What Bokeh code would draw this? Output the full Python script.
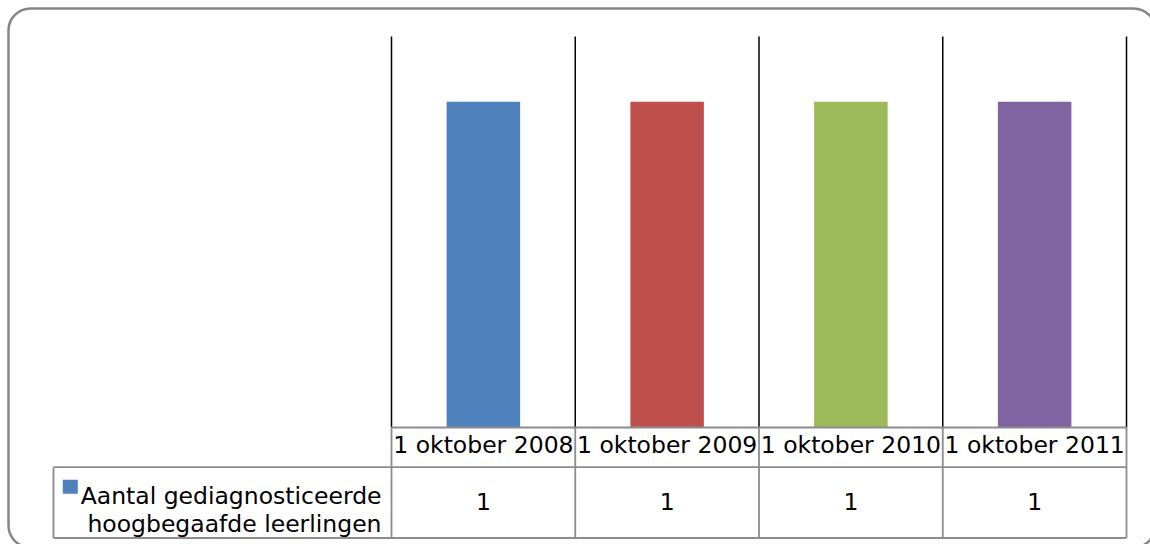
from bokeh.plotting import figure
from bokeh.models import Range1d, BoxAnnotation, ColumnDataSource
from bokeh.core.properties import value
from bokeh.embed import file_html
from bokeh.resources import INLINE

# ---- data ----
categories = ["1 oktober 2008", "1 oktober 2009", "1 oktober 2010", "1 oktober 2011"]
values = [1, 1, 1, 1]
series_lines = ["Aantal gediagnosticeerde", "hoogbegaafde leerlingen"]
colors = ["#4F81BD", "#C0504D", "#9BBB59", "#8064A2"]
y_max = 1.2

# ---- layout (page pixels) ----
W, H = 1150, 544
CELL_L = 391.0      # left edge of first category cell
CELL_W = 183.75     # width of one category cell
Y0 = 427.0          # page y of value 0
PXU = (Y0 - 36.0) / y_max  # pixels per value unit


def dx(px):
    return (px - CELL_L) / CELL_W


def dy(py):
    return (Y0 - py) / PXU


FONT = value("DejaVu Sans")
FS = "23.5px"
GRAY = "#8c8c8c"

p = figure(width=W, height=H,
           x_range=Range1d(dx(0), dx(W)),
           y_range=Range1d(dy(H), dy(0)),
           x_axis_type=None, y_axis_type=None,
           toolbar_location=None, output_backend="svg",
           min_border_left=0, min_border_right=0,
           min_border_top=0, min_border_bottom=0)
p.outline_line_color = None
p.background_fill_color = "white"
p.border_fill_color = "white"

n = len(categories)
centers = [i + 0.5 for i in range(n)]
bounds = list(range(n + 1))

# bars
src = ColumnDataSource(dict(x=centers, top=values, color=colors, cat=categories,
                            val=[str(v) for v in values]))
p.vbar(x="x", top="top", bottom=0, width=0.4, fill_color="color",
       line_color=None, source=src)

# vertical category separators in the plot area
p.segment(x0=bounds, y0=[0] * len(bounds), x1=bounds, y1=[y_max] * len(bounds),
          line_color="black", line_width=1.5)

# data table
cat_bottom = dy(466.7)
tbl_bottom = dy(537.5)
leg_left = dx(53)
hx0 = [0, leg_left, leg_left]
hx1 = [n, n, n]
hy = [0, cat_bottom, tbl_bottom]
p.segment(x0=hx0, y0=hy, x1=hx1, y1=hy, line_color=GRAY, line_width=1.8)
vx = bounds + [leg_left]
vy0 = [0] * len(bounds) + [cat_bottom]
vy1 = [tbl_bottom] * (len(bounds) + 1)
p.segment(x0=vx, y0=vy0, x1=vx, y1=vy1, line_color=GRAY, line_width=1.8)

p.text(x="x", y=dy(444.5), text="cat", source=src, text_align="center",
       text_baseline="middle", text_font=FONT, text_font_size=FS, text_color="black")
p.text(x="x", y=dy(500.5), text="val", source=src, text_align="center",
       text_baseline="middle", text_font=FONT, text_font_size=FS, text_color="black")

# legend key inside table
p.rect(x=[dx(69.8)], y=[dy(486.3)], width=15, height=14, width_units="screen",
       height_units="screen", fill_color=colors[0], line_color=None)
p.text(x=[dx(381)] * 2, y=[dy(495), dy(523)], text=series_lines,
       text_align="right", text_baseline="alphabetic", text_font=FONT,
       text_font_size=FS, text_color="black")

# rounded outer border (extends past the right and bottom edges, as in the original)
border = BoxAnnotation(left=dx(8), right=dx(1155), top=dy(8), bottom=dy(547),
                       fill_color=None, fill_alpha=0,
                       line_color="#868686", line_alpha=1.0, line_width=2.5,
                       border_radius=22, level="overlay")
p.add_layout(border)

open("out.html", "w").write(file_html(p, INLINE))
